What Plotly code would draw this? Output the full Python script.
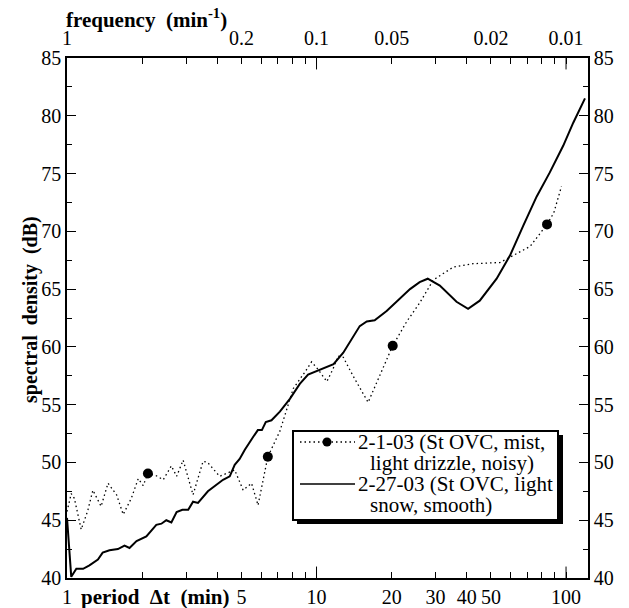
import plotly.graph_objects as go

# 2-27-03 (solid) : period (min) / spectral density (dB)
snow_period = [1.0, 1.04, 1.09, 1.16, 1.23, 1.33, 1.39, 1.48, 1.60, 1.70, 1.78, 1.90,
               2.08, 2.28, 2.39, 2.50, 2.62, 2.75, 2.90, 3.06, 3.20, 3.35, 3.67, 3.97,
               4.22, 4.49, 4.70, 4.92, 5.16, 5.57, 5.82, 6.04, 6.26, 6.60, 7.13, 7.82,
               8.57, 9.25, 10.3, 11.7, 12.8, 14.9, 15.9, 17.1, 19.1, 21.6, 23.7, 25.9,
               27.9, 31.2, 36.4, 40.5, 45.1, 52.7, 59.6, 67.4, 76.2, 86.1, 97.4, 106.9, 119.1]
snow_db = [45.2, 40.1, 40.8, 40.8, 41.1, 41.6, 42.2, 42.4, 42.5, 42.8, 42.6, 43.2,
           43.6, 44.6, 44.7, 45.0, 44.8, 45.7, 45.9, 45.9, 46.6, 46.5, 47.5, 48.1,
           48.5, 48.8, 49.8, 50.3, 51.1, 52.2, 52.8, 52.8, 53.5, 53.65, 54.4, 55.5,
           56.8, 57.6, 58.0, 58.5, 59.5, 61.8, 62.2, 62.3, 63.1, 64.2, 65.0, 65.6,
           65.9, 65.3, 63.9, 63.3, 64.0, 65.9, 67.9, 70.5, 73.0, 75.1, 77.4, 79.4, 81.5]

# 2-1-03 (dotted)
mist_period = [1.0, 1.04, 1.07, 1.14, 1.21, 1.27, 1.37, 1.46, 1.58, 1.68, 1.81, 1.93,
               2.02, 2.11, 2.28, 2.43, 2.62, 2.75, 2.92, 3.20, 3.51, 3.66, 4.09, 4.70,
               5.08, 5.49, 5.83, 6.38, 7.13, 8.07, 8.97, 9.55, 10.1, 11.0, 11.65, 12.2,
               12.8, 14.0, 16.1, 17.5, 19.1, 20.2, 23.0, 25.9, 29.4, 35.3, 42.4, 54.3,
               61.3, 71.8, 83.9, 89.3, 95.9]
mist_db = [45.75, 47.3, 46.9, 44.2, 45.8, 47.6, 46.2, 48.2, 47.2, 45.5, 46.9, 48.6,
           48.0, 49.05, 48.85, 48.5, 49.7, 48.8, 50.2, 47.2, 50.1, 50.0, 48.8, 49.35,
           47.6, 48.2, 46.3, 50.5, 52.7, 56.4, 57.8, 58.7, 58.1, 57.0, 58.1, 59.2,
           59.1, 57.5, 55.2, 57.0, 59.0, 60.1, 62.2, 63.8, 65.8, 66.9, 67.2, 67.3,
           67.9, 68.7, 70.6, 71.6, 73.9]

mark_period = [2.11, 6.38, 20.2, 83.9]
mark_db = [49.05, 50.5, 60.1, 70.6]

tick_period = [1, 2, 3, 4, 5, 6, 7, 8, 9, 10, 20, 30, 40, 50, 60, 70, 80, 90, 100]
bottom_text = ["1", "", "", "", "5", "", "", "", "", "10", "20", "30", "40", "50", "", "", "", "", "100"]
top_text = ["1", "", "", "", "0.2", "", "", "", "", "0.1", "0.05", "", "", "0.02", "", "", "", "", "0.01"]
long_ticks = [10, 100]

legend_lines = ["2-1-03 (St OVC, mist,", "light drizzle, noisy)",
                "2-27-03 (St OVC, light", "snow, smooth)"]

FONT = "Liberation Serif"
W, H = 629, 608
L, R, T, B = 67, 41, 58, 30
SP = "\u00a0\u00a0"


def px(x):
    return (x - L) / (W - L - R)


def py(y):
    return (H - B - y) / (H - T - B)


fig = go.Figure()
fig.add_trace(go.Scatter(x=mist_period, y=mist_db, mode="lines",
                         line=dict(color="black", width=1.3, dash="1.5px,3px"),
                         showlegend=False))
fig.add_trace(go.Scatter(x=mark_period, y=mark_db, mode="markers",
                         marker=dict(color="black", size=10), showlegend=False))
fig.add_trace(go.Scatter(x=snow_period, y=snow_db, mode="lines",
                         line=dict(color="black", width=2), showlegend=False))
# invisible copies so the top and right axes get drawn
fig.add_trace(go.Scatter(x=snow_period, y=snow_db, xaxis="x2", mode="lines",
                         opacity=0, showlegend=False, hoverinfo="skip"))
fig.add_trace(go.Scatter(x=snow_period, y=snow_db, yaxis="y2", mode="lines",
                         opacity=0, showlegend=False, hoverinfo="skip"))

xr = [0, 2.088]
common_x = dict(type="log", range=xr, tickmode="array", tickvals=tick_period,
                ticks="inside", ticklen=6, tickwidth=1, tickcolor="black", tickangle=0,
                showline=True, linecolor="black", linewidth=1.5, showgrid=False,
                zeroline=False, automargin=False,
                tickfont=dict(family=FONT, size=20, color="black"))
common_y = dict(range=[40, 85], tickmode="linear", tick0=40, dtick=5,
                ticks="inside", ticklen=9, tickwidth=1, tickcolor="black",
                minor=dict(dtick=2.5, ticks="inside", ticklen=5, tickcolor="black"),
                showline=True, linecolor="black", linewidth=1.5, showgrid=False,
                zeroline=False, automargin=False,
                tickfont=dict(family=FONT, size=20, color="black"))

fig.update_layout(
    width=W, height=H,
    margin=dict(l=L, r=R, t=T, b=B, autoexpand=False),
    paper_bgcolor="white", plot_bgcolor="white",
    xaxis=dict(common_x, ticktext=bottom_text, side="bottom"),
    xaxis2=dict(common_x, ticktext=top_text, side="top", overlaying="x", anchor="y",
                ticklabelstandoff=3),
    yaxis=dict(common_y, side="left"),
    yaxis2=dict(common_y, side="right", overlaying="y", anchor="x"),
    showlegend=False,
    font=dict(family=FONT, color="black"),
)

shapes = []
# longer ticks at 10 and 100
for v in long_ticks:
    shapes.append(dict(type="line", xref="x", yref="paper", x0=v, x1=v, y0=0, y1=0.022,
                       line=dict(color="black", width=1)))
    shapes.append(dict(type="line", xref="x", yref="paper", x0=v, x1=v, y0=1, y1=0.978,
                       line=dict(color="black", width=1)))
# legend box with drop shadow
shapes.append(dict(type="rect", xref="paper", yref="paper",
                   x0=px(297), x1=px(563), y0=py(524), y1=py(435),
                   fillcolor="black", line=dict(width=0)))
shapes.append(dict(type="rect", xref="paper", yref="paper",
                   x0=px(293), x1=px(558), y0=py(520), y1=py(431),
                   fillcolor="white", line=dict(color="black", width=2)))
shapes.append(dict(type="line", xref="paper", yref="paper",
                   x0=px(300), x1=px(355), y0=py(442), y1=py(442),
                   line=dict(color="black", width=1.3, dash="1.5px,3px")))
shapes.append(dict(type="circle", xref="paper", yref="paper",
                   x0=px(322.5), x1=px(331.5), y0=py(446.5), y1=py(437.5),
                   fillcolor="black", line=dict(color="black", width=0)))
shapes.append(dict(type="line", xref="paper", yref="paper",
                   x0=px(300), x1=px(355), y0=py(484), y1=py(484),
                   line=dict(color="black", width=1.5)))
fig.update_layout(shapes=shapes)

ann = []
for txt, xx, yy in zip(legend_lines, [356, 368, 356, 368], [442, 463, 484, 505]):
    ann.append(dict(text=txt, xref="paper", yref="paper", x=px(xx), y=py(yy),
                    xanchor="left", yanchor="middle", showarrow=False,
                    font=dict(family=FONT, size=21, color="black")))
ann.append(dict(text="<b>spectral" + SP + "density" + SP + "(dB)</b>", textangle=-90,
                xref="paper", yref="paper", x=px(30), y=py(310),
                xanchor="center", yanchor="middle", showarrow=False,
                font=dict(family=FONT, size=20, color="black")))
ann.append(dict(text="<b>frequency" + SP + "(min<sup>-1</sup>)</b>",
                xref="paper", yref="paper", x=px(64), y=py(18),
                xanchor="left", yanchor="middle", showarrow=False,
                font=dict(family=FONT, size=21, color="black")))
ann.append(dict(text="<b>period" + SP + "\u0394t" + SP + "(min)</b>",
                xref="paper", yref="paper", x=px(79), y=py(597),
                xanchor="left", yanchor="middle", showarrow=False,
                font=dict(family=FONT, size=21, color="black")))
fig.update_layout(annotations=ann)

fig.write_html("out.html", config={"displayModeBar": False},
               post_script="document.body.style.margin='0';document.body.style.overflow='hidden';")
